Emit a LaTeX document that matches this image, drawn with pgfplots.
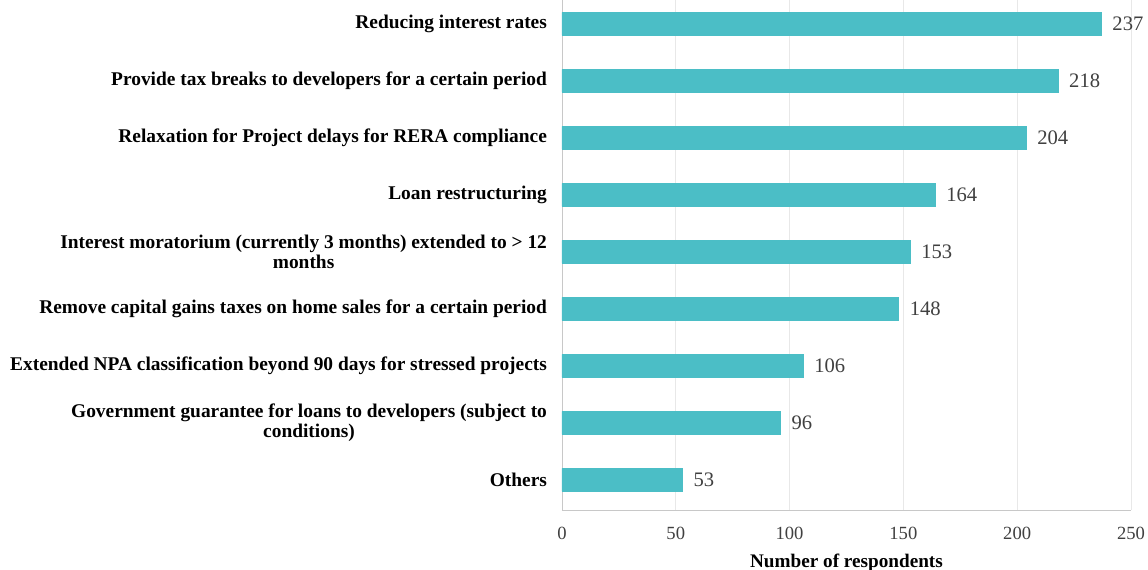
\documentclass[border=0pt]{standalone}
\usepackage{pgfplots}
\pgfplotsset{compat=1.18}
\usepackage{fontspec}
\setmainfont{Liberation Serif}
\definecolor{barc}{HTML}{4BBEC6}
\definecolor{gridc}{HTML}{E8E8E8}
\definecolor{axc}{HTML}{C8C8C8}
\definecolor{txt}{HTML}{404040}
\begin{document}
\begin{tikzpicture}
\begin{axis}[
  scale only axis, width=284.5pt, height=255pt,
  xbar, bar width=11.5pt,
  xmin=0, xmax=250, ymin=-0.53, ymax=8.42,
  xtick={0,50,100,150,200,250},
  ytick={0,1,2,3,4,5,6,7,8},
  yticklabels={Others,
    {Government guarantee for loans to developers (subject to\\conditions)},
    Extended NPA classification beyond 90 days for stressed projects,
    Remove capital gains taxes on home sales for a certain period,
    {Interest moratorium (currently 3 months) extended to > 12\\months},
    Loan restructuring,
    Relaxation for Project delays for RERA compliance,
    Provide tax breaks to developers for a certain period,
    Reducing interest rates},
  yticklabel style={align=center, font=\bfseries\fontsize{9.7}{9.6}\selectfont, text=black, xshift=-4pt},
  xticklabel style={font=\fontsize{9.3}{10}\selectfont, text=txt, yshift=-5pt},
  /pgf/number format/assume math mode=true,
  axis x line*=bottom, axis y line*=left,
  axis line style={axc},
  x axis line style={-}, y axis line style={-},
  major tick length=0pt,
  xmajorgrids, grid style={gridc},
  xlabel={\textbf{Number of respondents}},
  xlabel style={font=\fontsize{9.6}{11}\selectfont, yshift=-0.5pt},
  nodes near coords,
  nodes near coords style={font=\fontsize{10.3}{11}\selectfont, text=txt, anchor=west, xshift=2pt},
  clip=false,
]
\addplot[fill=barc, draw=barc] coordinates {
  (53,0) (96,1) (106,2) (148,3) (153,4) (164,5) (204,6) (218,7) (237,8)
};
\coordinate (bbl) at (rel axis cs:-0.9877,-0.1157);
\coordinate (bbr) at (rel axis cs:1.0299,1);
\end{axis}
\pgfresetboundingbox
\path[use as bounding box] (bbl) rectangle (bbr);
\end{tikzpicture}
\end{document}
